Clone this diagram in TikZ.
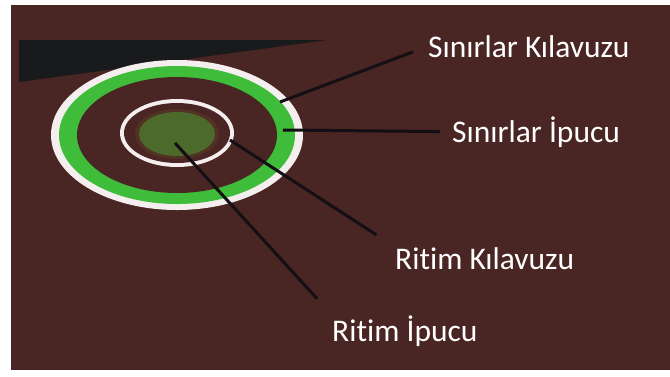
\documentclass[tikz,border=0pt]{standalone}
\usepackage{fontspec}
\setmainfont{Carlito}[Ligatures=NoCommon]
\usetikzlibrary{positioning,calc}

\definecolor{bgbrown}{RGB}{73,37,35}
\definecolor{wedgeblack}{RGB}{24,26,27}
\definecolor{ringwhite}{RGB}{245,238,238}
\definecolor{ringgreen}{RGB}{62,188,58}
\definecolor{halobrown}{RGB}{82,50,36}
\definecolor{olive}{RGB}{76,106,44}
\definecolor{leadblack}{RGB}{20,15,20}

\begin{document}
\begin{tikzpicture}[
  x=1pt, y=-1pt,
  lbl/.style  = {text=white, font=\fontsize{31.5}{36}\selectfont,
                 inner sep=0pt, anchor=base west},
  lead/.style = {draw=leadblack, line width=3pt},
]
\useasboundingbox (0,0) rectangle (670,376);

%% --- background and dark wedge ---
\fill[bgbrown] (11,5) rectangle (670,370);
\fill[wedgeblack] (19,40) -- (327,40) -- (19,82) -- cycle;

%% --- outer rings ---
\fill[ringwhite] (177,135) ellipse [x radius=126pt, y radius=75pt];
\fill[ringgreen] (177,135) ellipse [x radius=118pt, y radius=69pt];
\fill[bgbrown]   (177,135) ellipse [x radius=100pt, y radius=58pt];

%% --- inner ring and centre ---
\fill[ringwhite] (177,133) ellipse [x radius=57pt, y radius=34pt];
\fill[bgbrown]   (177,133) ellipse [x radius=53pt, y radius=30pt];
\fill[halobrown] (177,134) ellipse [x radius=42pt, y radius=25pt];
\fill[olive]     (177,134) ellipse [x radius=38pt, y radius=22pt];

%% --- points on the target ---
\coordinate (sk) at (280,102);
\coordinate (si) at (283,130);
\coordinate (rk) at (230,140);
\coordinate (ri) at (175,143);

%% --- labels ---
\node[lbl] (skil) at (428,57)  {Sınırlar Kılavuzu};
\node[lbl] (sipu) at (452,142) {Sınırlar İpucu};
\node[lbl] (rkil) at (395,269) {Ritim Kılavuzu};
\node[lbl] (ripu) at (332,341) {Ritim İpucu};

%% --- leader lines ---
\draw[lead, shorten >=16pt] (sk) -- (skil.west);
\draw[lead, shorten >=12pt] (si) -- (sipu.west);
\draw[lead, shorten >=22pt] (rk) -- (rkil.north west);
\draw[lead, shorten >=22pt] (ri) -- (ripu.north west);
\end{tikzpicture}
\end{document}
